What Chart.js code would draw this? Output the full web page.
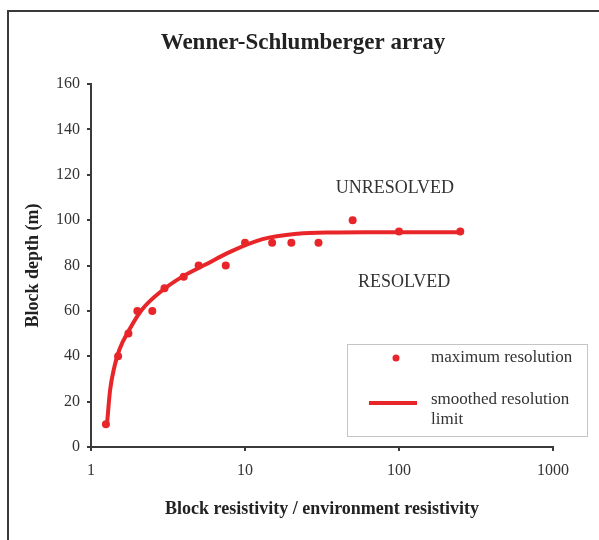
<!DOCTYPE html>
<html>
<head>
<meta charset="utf-8">
<title>Wenner-Schlumberger array</title>
<script src="https://cdn.jsdelivr.net/npm/chart.js@4/dist/chart.umd.min.js"></script>
<style>
    body { margin: 0; background: #fff; }
    canvas { display: block; }
</style>
</head>
<body>
<canvas id="myChart" width="599" height="540"></canvas>
<script>
// Maximum resolution points (block resistivity ratio, depth in m)
let pointX = [1.25, 1.5, 1.75, 2, 2.5, 3, 4, 5, 7.5, 10, 15, 20, 30, 50, 100, 250];
let pointY = [10, 40, 50, 60, 60, 70, 75, 80, 80, 90, 90, 90, 90, 100, 95, 95];

// Smoothed resolution limit curve
let curveX = [1.27, 1.33, 1.42, 1.53, 1.75, 2.14, 2.9, 3.9, 5.5, 8, 13, 22, 36, 60, 250];
let curveY = [10, 25, 35.5, 43, 51, 60.5, 69, 75, 80.3, 86, 91.6, 94, 94.6, 94.7, 94.7];

// Axis ticks
let xTicks = [1, 10, 100, 1000];
let yTicks = [0, 20, 40, 60, 80, 100, 120, 140, 160];

// Region labels (placed in data units)
let regionText = ['UNRESOLVED', 'RESOLVED'];
let regionX = [94, 108];
let regionY = [114, 72.5];

const red = 'rgb(232, 38, 42)';
const ink = '#333';
const serif = "'Liberation Serif', 'DejaVu Serif', serif";

// Outer frame, title, region labels and the boxed legend
const extras = {
    id: 'extras',
    beforeDraw(chart) {
        const ctx = chart.ctx;
        ctx.save();
        ctx.fillStyle = '#fff';
        ctx.fillRect(0, 0, chart.width, chart.height);
        ctx.strokeStyle = '#3a3a3a';
        ctx.lineWidth = 2;
        ctx.beginPath();
        ctx.moveTo(8, chart.height);
        ctx.lineTo(8, 11);
        ctx.lineTo(chart.width, 11);
        ctx.stroke();
        ctx.restore();
    },
    afterDraw(chart) {
        const ctx = chart.ctx;
        const xs = chart.scales.x;
        const ys = chart.scales.y;
        ctx.save();
        ctx.textBaseline = 'middle';
        ctx.textAlign = 'center';

        ctx.fillStyle = '#222';
        ctx.font = 'bold 23px ' + serif;
        ctx.fillText('Wenner-Schlumberger array', 303, 43);

        ctx.fillStyle = ink;
        ctx.font = '18px ' + serif;
        regionText.forEach((t, i) => {
            ctx.fillText(t, xs.getPixelForValue(regionX[i]), ys.getPixelForValue(regionY[i]));
        });

        // legend box
        ctx.strokeStyle = '#c4c4c4';
        ctx.lineWidth = 1;
        ctx.strokeRect(347.5, 344.5, 240, 92);

        ctx.fillStyle = red;
        ctx.beginPath();
        ctx.arc(396, 358, 3.5, 0, Math.PI * 2);
        ctx.fill();

        ctx.strokeStyle = red;
        ctx.lineWidth = 4;
        ctx.beginPath();
        ctx.moveTo(369, 403);
        ctx.lineTo(417, 403);
        ctx.stroke();

        ctx.fillStyle = ink;
        ctx.font = '17px ' + serif;
        ctx.textAlign = 'left';
        ctx.fillText('maximum resolution', 431, 358);
        ctx.fillText('smoothed resolution', 431, 400);
        ctx.fillText('limit', 431, 420);
        ctx.restore();
    }
};

const data = {
    datasets: [{
        label: 'maximum resolution',
        data: pointX.map((x, i) => ({ x: x, y: pointY[i] })),
        showLine: false,
        pointRadius: 4,
        pointBackgroundColor: red,
        pointBorderWidth: 0
    }, {
        label: 'smoothed resolution limit',
        data: curveX.map((x, i) => ({ x: x, y: curveY[i] })),
        showLine: true,
        borderColor: red,
        borderWidth: 4,
        pointRadius: 0,
        cubicInterpolationMode: 'monotone'
    }]
};

const config = {
    type: 'scatter',
    data: data,
    options: {
        responsive: false,
        animation: false,
        events: [],
        layout: { padding: { left: 0, right: 46, top: 84, bottom: 0 } },
        plugins: {
            legend: { display: false },
            tooltip: { enabled: false },
            title: { display: false }
        },
        scales: {
            x: {
                type: 'logarithmic',
                min: 1,
                max: 1000,
                afterBuildTicks: (scale) => { scale.ticks = xTicks.map(v => ({ value: v })); },
                afterFit: (scale) => { scale.height = 93; },
                ticks: {
                    color: ink,
                    font: { family: serif, size: 16 },
                    padding: 10,
                    maxRotation: 0,
                    callback: (v) => String(v)
                },
                grid: { drawOnChartArea: false, tickLength: 4, color: '#3a3a3a', lineWidth: 2 },
                border: { color: '#3a3a3a', width: 2 },
                title: {
                    display: true,
                    text: 'Block resistivity / environment resistivity',
                    color: '#222',
                    font: { family: serif, size: 18, weight: 'bold', lineHeight: 1.2 },
                    padding: { top: 0, bottom: 20 }
                }
            },
            y: {
                min: 0,
                max: 160,
                afterBuildTicks: (scale) => { scale.ticks = yTicks.map(v => ({ value: v })); },
                afterFit: (scale) => { scale.width = 91; },
                ticks: {
                    color: ink,
                    font: { family: serif, size: 16 },
                    padding: 7
                },
                grid: { drawOnChartArea: false, tickLength: 4, color: '#3a3a3a', lineWidth: 2 },
                border: { color: '#3a3a3a', width: 2 },
                title: {
                    display: true,
                    text: 'Block depth (m)',
                    color: '#222',
                    font: { family: serif, size: 18, weight: 'bold', lineHeight: 1.2 },
                    padding: { top: 23, bottom: 0 }
                }
            }
        }
    },
    plugins: [extras]
};

const chart = new Chart(
    document.getElementById('myChart'),
    config
);
</script>
</body>
</html>
